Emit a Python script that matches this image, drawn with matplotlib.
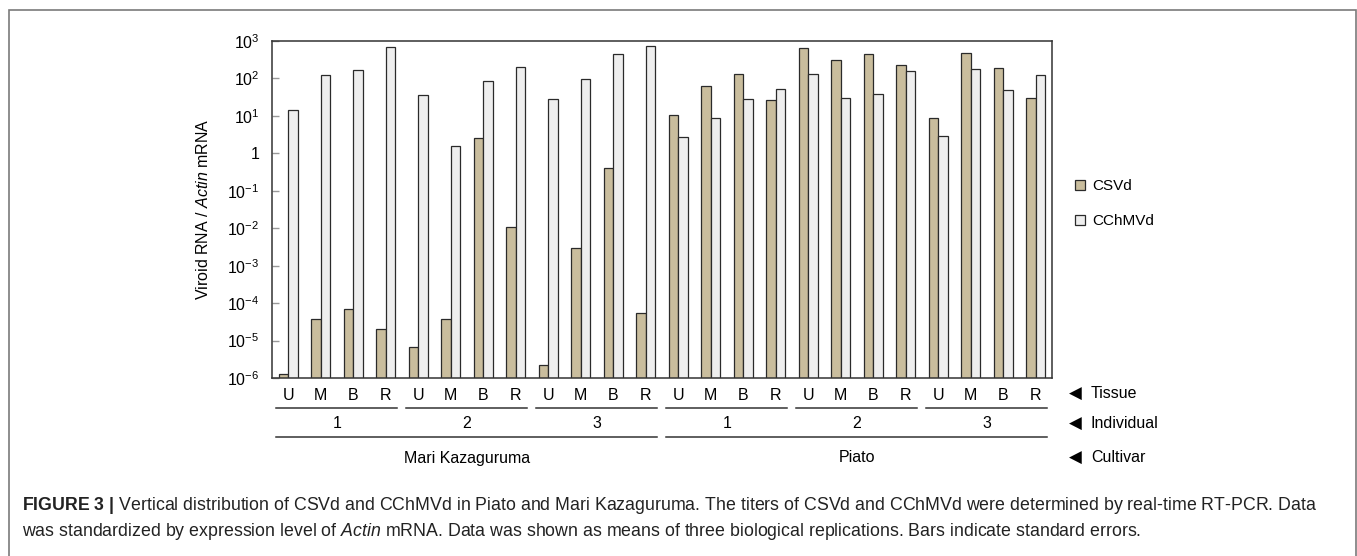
import numpy as np
import matplotlib
matplotlib.use('Agg')
import matplotlib.pyplot as plt
from matplotlib.patches import Patch, Rectangle

plt.rcParams['font.family'] = ['Liberation Sans', 'DejaVu Sans']
plt.rcParams['mathtext.fontset'] = 'custom'
plt.rcParams['mathtext.rm'] = 'Liberation Sans'
plt.rcParams['mathtext.it'] = 'Liberation Sans:italic'
plt.rcParams['mathtext.bf'] = 'Liberation Sans:bold'

# values (ratio to Actin mRNA)
tissues = ['U', 'M', 'B', 'R'] * 6
individuals = ['1', '2', '3', '1', '2', '3']
cultivars = ['Mari Kazaguruma', 'Piato']
csvd = [1.26e-6, 3.7e-5, 6.8e-5, 2.0e-5,
        6.9e-6, 3.8e-5, 2.6, 0.011,
        2.2e-6, 0.003, 0.41, 5.6e-5,
        10.5, 63, 134, 27,
        660, 305, 440, 225,
        8.6, 485, 193, 29.5]
cchmvd = [14.6, 125, 165, 690,
          37, 1.58, 87, 205,
          29, 95, 440, 750,
          2.8, 8.6, 28, 53,
          128, 30, 38, 158,
          2.9, 182, 50, 125]
ytick_vals = [1e-6, 1e-5, 1e-4, 1e-3, 1e-2, 1e-1, 1, 1e1, 1e2, 1e3]
ytick_labels = ['$10^{-6}$', '$10^{-5}$', '$10^{-4}$', '$10^{-3}$', '$10^{-2}$',
                '$10^{-1}$', '1', '$10^{1}$', '$10^{2}$', '$10^{3}$']

TAN = '#c9bd9d'
LIGHT = '#eeeeee'
EDGE = '#2a2a2a'
W, H = 1357, 556


def fy(ypix):
    # figure pixel row -> axes fraction (axes spans rows 41..378)
    return (378 - ypix) / 337.0


def plot():
    fig = plt.figure(figsize=(W / 100, H / 100), dpi=100)
    ax = fig.add_axes([272 / W, 1 - 378 / H, 780 / W, 337 / H])

    x = np.arange(len(csvd))
    bw = 0.29
    ax.bar(x - bw / 2, np.array(csvd) - 1e-7, bw, bottom=1e-7, color=TAN,
           edgecolor=EDGE, linewidth=0.9, label='CSVd')
    ax.bar(x + bw / 2, np.array(cchmvd) - 1e-7, bw, bottom=1e-7, color=LIGHT,
           edgecolor=EDGE, linewidth=0.9, label='CChMVd')

    ax.set_yscale('log')
    ax.set_ylim(1e-6, 1e3)
    ax.set_xlim(-0.5, len(csvd) - 0.5)
    ax.set_yticks(ytick_vals)
    ax.set_yticklabels(ytick_labels)
    ax.minorticks_off()
    ax.tick_params(axis='y', direction='in', length=5, width=1, color='#999999',
                   labelsize=11.5, pad=9)
    ax.set_xticks(x)
    ax.set_xticklabels(tissues)
    ax.tick_params(axis='x', length=0, labelsize=11.5, pad=7)
    for s in ax.spines.values():
        s.set_color('#333333')
        s.set_linewidth(1.1)
    ax.set_ylabel('Viroid RNA / $\\mathit{Actin}$ mRNA', fontsize=11.5, labelpad=12)

    tr = ax.get_xaxis_transform()
    # individual underlines and labels
    for k, lab in enumerate(individuals):
        x0, x1 = 4 * k - 0.38, 4 * k + 3.35
        ax.plot([x0, x1], [fy(408), fy(408)], color='#333333', lw=1.1,
                transform=tr, clip_on=False)
        ax.text(4 * k + 1.5, fy(424), lab, transform=tr, ha='center', va='center',
                fontsize=11.5)
    # cultivar underlines and labels
    for k, lab in enumerate(cultivars):
        x0, x1 = 12 * k - 0.38, 12 * k + 11.35
        ax.plot([x0, x1], [fy(437), fy(437)], color='#333333', lw=1.1,
                transform=tr, clip_on=False)
        ax.text(12 * k + 5.5, fy(458), lab, transform=tr, ha='center', va='center',
                fontsize=11.5)

    for lab, yp in [('Tissue', 394), ('Individual', 424), ('Cultivar', 458)]:
        fig.text(1069 / W, 1 - yp / H, '\u25c0', ha='left', va='center',
                 fontsize=12, family='DejaVu Sans')
        fig.text(1091 / W, 1 - yp / H, lab, ha='left', va='center', fontsize=11.5)

    handles = [Patch(facecolor=TAN, edgecolor=EDGE, linewidth=0.9),
               Patch(facecolor=LIGHT, edgecolor=EDGE, linewidth=0.9)]
    fig.legend(handles, ['CSVd', 'CChMVd'], loc='upper left',
               bbox_to_anchor=(1075 / W, 1 - 179 / H), frameon=False,
               fontsize=11, handlelength=0.65, handleheight=0.65,
               handletextpad=0.45, labelspacing=1.38, borderpad=0,
               borderaxespad=0)

    # outer frame of the figure panel
    fig.add_artist(Rectangle((8.5 / W, -0.1), 1347 / W, 1.1 - 10 / H,
                             transform=fig.transFigure, fill=False,
                             edgecolor='#7a7a7a', linewidth=1.2))

    fig.text(22 / W, 1 - 506 / H,
             '$\\mathbf{FIGURE\\ 3\\ |}$ Vertical distribution of CSVd and CChMVd in '
             'Piato and Mari Kazaguruma. The titers of CSVd and CChMVd were determined '
             'by real-time RT-PCR. Data', ha='left', va='center', fontsize=12.8,
             color='#222222')
    fig.text(22 / W, 1 - 532 / H,
             'was standardized by expression level of $\\mathit{Actin}$ mRNA. Data was '
             'shown as means of three biological replications. Bars indicate standard '
             'errors.', ha='left', va='center', fontsize=12.8, color='#222222')

    fig.savefig('out.png', dpi=100)


plot()
